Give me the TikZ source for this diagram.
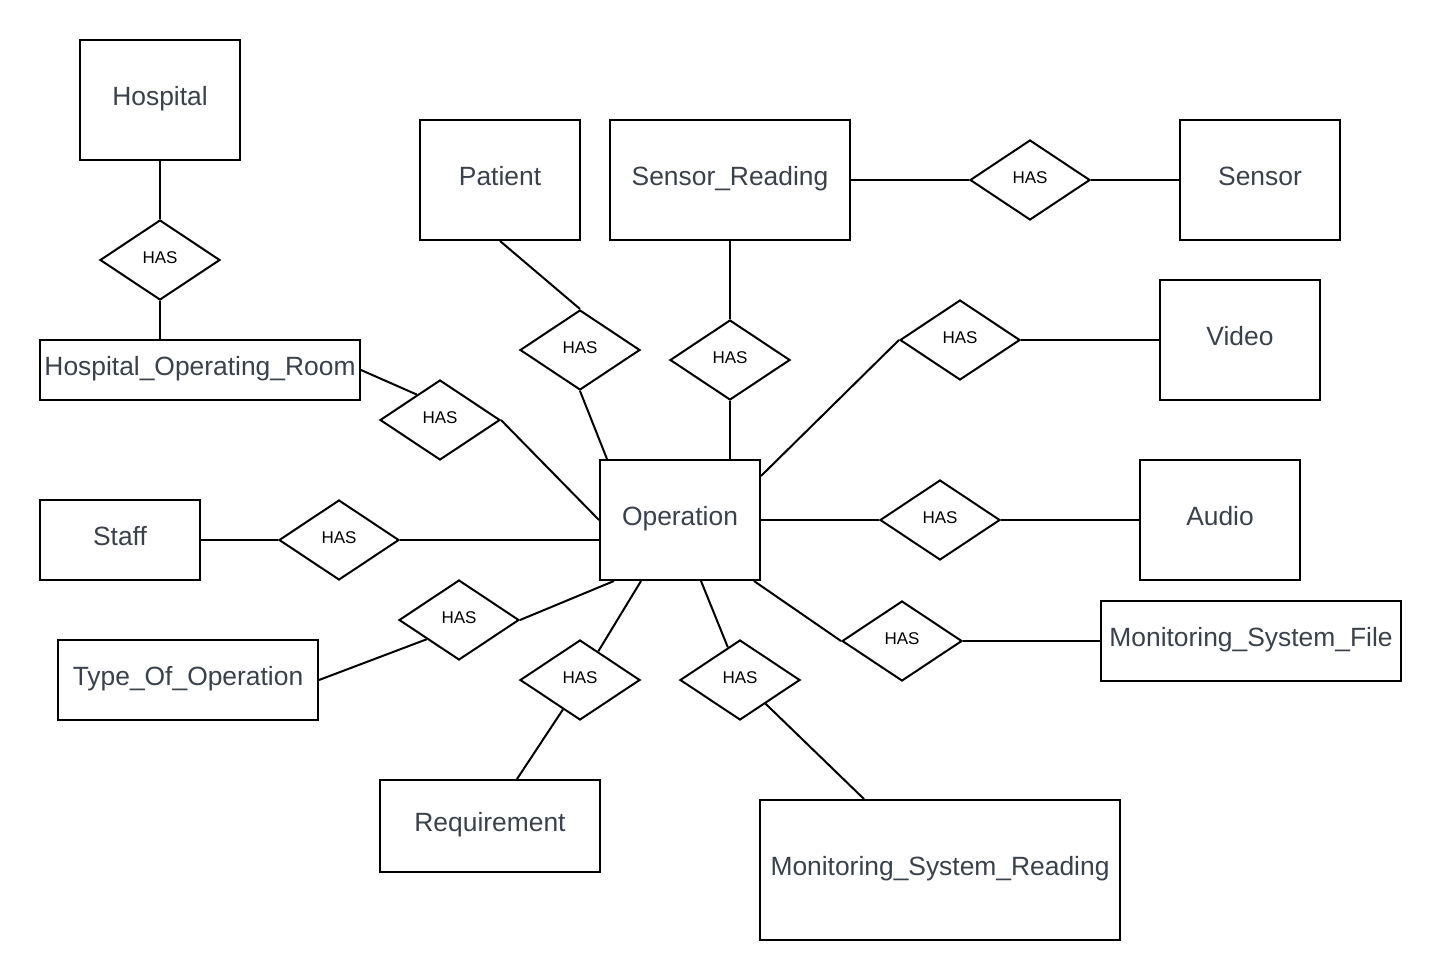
\documentclass[tikz,border=0pt]{standalone}
\usepackage{fontspec}
\setmainfont{Liberation Sans}
\usetikzlibrary{shapes.geometric,calc}
\definecolor{entitytext}{HTML}{3A414A}
\tikzset{
  entity/.style={draw=black, line width=2pt, rectangle, inner sep=0pt,
    text=entitytext, font=\fontsize{26.4}{30}\selectfont,
    text height=19pt, text depth=8pt},
  relation/.style={draw=black, line width=2pt, diamond, aspect=1.5,
    minimum width=120pt, minimum height=80pt, inner sep=0pt,
    text=black, font=\fontsize{17}{20}\selectfont,
    text height=12.2pt, text depth=6pt},
  link/.style={draw=black, line width=2pt},
}
\begin{document}
\begin{tikzpicture}[x=1pt, y=-1pt]
\useasboundingbox (0,0) rectangle (1441,980);

% entities
\node[entity, minimum width=160pt, minimum height=120pt] (hosp)    at (160,100)  {Hospital};
\node[entity, minimum width=320pt, minimum height=60pt]  (hor)     at (200,370)  {Hospital\_Operating\_Room};
\node[entity, minimum width=160pt, minimum height=120pt] (patient) at (500,180)  {Patient};
\node[entity, minimum width=240pt, minimum height=120pt] (sr)      at (730,180)  {Sensor\_Reading};
\node[entity, minimum width=160pt, minimum height=120pt] (sensor)  at (1260,180) {Sensor};
\node[entity, minimum width=160pt, minimum height=120pt] (video)   at (1240,340) {Video};
\node[entity, minimum width=160pt, minimum height=120pt] (op)      at (680,520)  {Operation};
\node[entity, minimum width=160pt, minimum height=80pt]  (staff)   at (120,540)  {Staff};
\node[entity, minimum width=160pt, minimum height=120pt] (audio)   at (1220,520) {Audio};
\node[entity, minimum width=260pt, minimum height=80pt]  (type)    at (188,680)  {Type\_Of\_Operation};
\node[entity, minimum width=300pt, minimum height=80pt]  (msf)     at (1251,641) {Monitoring\_System\_File};
\node[entity, minimum width=220pt, minimum height=92pt]  (req)     at (490,826)  {Requirement};
\node[entity, minimum width=360pt, minimum height=140pt] (msr)     at (940,870)  {Monitoring\_System\_Reading};

% relationships
\node[relation] (dHosp)  at (160,260) {HAS};
\node[relation] (dPat)   at (580,350) {HAS};
\node[relation] (dSR)    at (730,360) {HAS};
\node[relation] (dSens)  at (1030,180) {HAS};
\node[relation] (dHOR)   at (440,420) {HAS};
\node[relation] (dVid)   at (960,340) {HAS};
\node[relation] (dStaff) at (339,540) {HAS};
\node[relation] (dAud)   at (940,520) {HAS};
\node[relation] (dType)  at (459,620) {HAS};
\node[relation] (dReq)   at (580,680) {HAS};
\node[relation] (dMSR)   at (740,680) {HAS};
\node[relation] (dMSF)   at (902,641) {HAS};

% connectors
\draw[link] (hosp.south) -- (dHosp.north);
\draw[link] (dHosp.south) -- (dHosp.south |- hor.north);

\draw[link] (patient.south) -- (dPat.north);
\draw[link] (dPat.south) -- ([xshift=8pt]op.north west);

\draw[link] (sr.south) -- (dSR.north);
\draw[link] (dSR.south) -- (dSR.south |- op.north);

\draw[link] (sr.east) -- (dSens.west);
\draw[link] (dSens.east) -- (sensor.west);

\draw[link] (hor.east) -- ($(dHOR.west)!0.62!(dHOR.north)$);
\draw[link] (dHOR.east) -- (op.west);

\draw[link] ([yshift=-17pt]op.north east) -- (dVid.west);
\draw[link] (dVid.east) -- (video.west);

\draw[link] (op.east) -- (dAud.west);
\draw[link] (dAud.east) -- (audio.west);

\draw[link] (staff.east) -- (dStaff.west);
\draw[link] (dStaff.east) -- (dStaff.east -| op.west);

\draw[link] ([xshift=15pt]op.south west) -- (dType.east);
\draw[link] ($(dType.west)!0.47!(dType.south)$) -- (type.east);

\draw[link] ([xshift=42pt]op.south west) -- ($(dReq.north)!0.3!(dReq.east)$);
\draw[link] ($(dReq.west)!0.72!(dReq.south)$) -- ([xshift=138pt]req.north west);

\draw[link] ([xshift=102pt]op.south west) -- ($(dMSR.west)!0.8!(dMSR.north)$);
\draw[link] ($(dMSR.east)!0.58!(dMSR.south)$) -- ([xshift=105pt]msr.north west);

\draw[link] ([xshift=-7pt]op.south east) -- (dMSF.west);
\draw[link] (dMSF.east) -- (msf.west);
\end{tikzpicture}
\end{document}
